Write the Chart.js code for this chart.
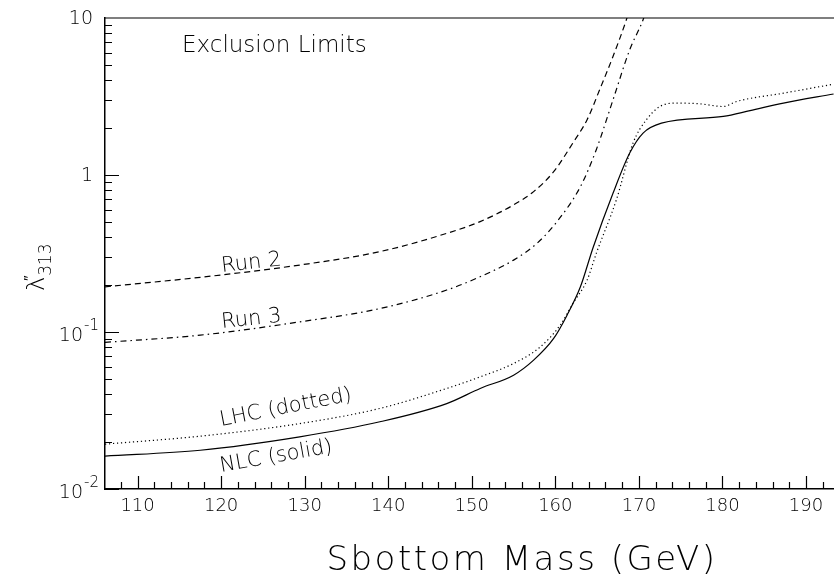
<!DOCTYPE html>
<html lang="en">
<head>
    <meta charset="UTF-8">
    <title>Exclusion Limits</title>
    <script src="https://cdn.jsdelivr.net/npm/chart.js"></script>
    <style>
        body { margin: 0; background: #fff; }
        #wrap { width: 834px; height: 581px; position: relative; }
    </style>
</head>
<body>
    <div id="wrap"><canvas id="chart"></canvas></div>

    <script>
        // values (sbottom mass in GeV, coupling on log scale)
        const run2Mass = [106.1, 117.5, 129.4, 139.0, 147.0, 151.0, 155.0, 157.4, 159.8, 162.1, 163.8, 165.3, 166.9, 168.5, 169.3];
        const run2Lambda = [0.194, 0.223, 0.267, 0.325, 0.425, 0.505, 0.645, 0.784, 1.05, 1.6, 2.25, 3.49, 5.69, 9.75, 13.5];

        const run3Mass = [106.1, 117.5, 129.4, 139.0, 147.0, 151.0, 155.0, 157.8, 160.2, 163.0, 164.9, 166.9, 168.9, 170.5, 171.1];
        const run3Lambda = [0.0859, 0.0955, 0.116, 0.141, 0.185, 0.225, 0.287, 0.367, 0.505, 0.843, 1.45, 3.01, 6.28, 9.75, 12.2];

        const lhcMass = [106.1, 117.5, 129.4, 139.0, 147.0, 151.0, 155.0, 158.2, 160.6, 162.1, 163.8, 164.9, 167.3, 169.3, 170.9, 172.5, 174.5, 177.3, 180.1, 181.7, 187.3, 193.3];
        const lhcLambda = [0.0193, 0.0217, 0.0261, 0.0326, 0.0437, 0.0518, 0.063, 0.0804, 0.111, 0.152, 0.214, 0.317, 0.694, 1.6, 2.25, 2.73, 2.87, 2.84, 2.73, 2.94, 3.32, 3.79];

        const nlcMass = [106.1, 117.5, 129.4, 139.0, 147.0, 151.0, 155.0, 157.4, 159.8, 161.4, 163.0, 164.5, 166.9, 168.9, 170.5, 172.7, 180.1, 183.3, 187.3, 193.3];
        const nlcLambda = [0.0162, 0.01765, 0.0215, 0.0268, 0.035, 0.0437, 0.0531, 0.0662, 0.091, 0.128, 0.194, 0.343, 0.765, 1.38, 1.85, 2.14, 2.36, 2.57, 2.87, 3.28];

        const xTickLabels = [110, 120, 130, 140, 150, 160, 170, 180, 190];
        const yTickLabels = [[0.01, '10', '-2'], [0.1, '10', '-1'], [1, '1', ''], [10, '10', '']];

        const FONT = '"DejaVu Sans", sans-serif';

        function pts(xs, ys) {
            return xs.map((x, i) => ({ x: x, y: ys[i] }));
        }

        function line(label, xs, ys, dash) {
            return {
                label: label,
                data: pts(xs, ys),
                borderColor: '#000',
                borderWidth: 1.2,
                borderDash: dash,
                pointRadius: 0,
                fill: false,
                cubicInterpolationMode: 'monotone'
            };
        }

        // ticks pointing into the plot, labels, titles and the curve captions
        const frame = {
            id: 'frame',
            afterDraw(chart) {
                const c = chart.ctx, a = chart.chartArea;
                const xs = chart.scales.x, ys = chart.scales.y;
                c.save();
                c.strokeStyle = '#000';
                c.fillStyle = '#000';
                c.lineWidth = 1.2;

                // top border
                c.beginPath();
                c.moveTo(a.left, a.top);
                c.lineTo(a.right, a.top);
                c.stroke();

                // x ticks every 2 GeV
                c.beginPath();
                for (let v = 108; v <= 192; v += 2) {
                    const px = Math.round(xs.getPixelForValue(v)) + 0.5;
                    const len = v % 10 === 0 ? 13 : 7;
                    c.moveTo(px, a.bottom);
                    c.lineTo(px, a.bottom - len);
                }
                // y ticks 1..9 per decade
                for (const d of [0.01, 0.1, 1]) {
                    for (let k = 1; k <= 9; k++) {
                        const py = Math.round(ys.getPixelForValue(d * k)) + 0.5;
                        const len = k === 1 ? 14 : 7;
                        c.moveTo(a.left, py);
                        c.lineTo(a.left + len, py);
                    }
                }
                c.stroke();

                // x tick labels
                c.font = '300 18px ' + FONT;
                c.textAlign = 'center';
                c.textBaseline = 'top';
                xTickLabels.forEach(v => c.fillText(String(v), xs.getPixelForValue(v), a.bottom + 8));

                // y tick labels with exponent
                yTickLabels.forEach(([v, base, exp]) => {
                    const py = ys.getPixelForValue(v);
                    c.textBaseline = 'middle';
                    if (exp) {
                        c.font = '300 15px ' + FONT;
                        c.textAlign = 'right';
                        c.fillText(exp, 99, py - 6);
                        const w = c.measureText(exp).width;
                        c.font = '300 19px ' + FONT;
                        c.fillText(base, 99 - w - 1, py + 4);
                    } else {
                        c.font = '300 19px ' + FONT;
                        c.textAlign = 'right';
                        c.fillText(base, 93, py + 1);
                    }
                });

                // axis titles
                c.font = '300 34px ' + FONT;
                c.letterSpacing = '2.5px';
                c.textAlign = 'center';
                c.textBaseline = 'alphabetic';
                c.fillText('Sbottom Mass (GeV)', 522, 570);
                c.letterSpacing = '0px';

                c.save();
                c.translate(44, 291);
                c.rotate(-Math.PI / 2);
                c.textAlign = 'left';
                c.font = '300 24px ' + FONT;
                c.fillText('\u03bb', 0, 0);
                const lw = c.measureText('\u03bb').width;
                c.font = '300 15px ' + FONT;
                c.fillText('\u2033', lw - 4, -10);
                c.font = '300 17px ' + FONT;
                c.fillText('313', lw + 1, 7);
                c.restore();

                // captions
                c.font = '300 23px ' + FONT;
                c.textAlign = 'left';
                c.fillText('Exclusion Limits', 182, 52);

                const caption = (t, x, y, deg) => {
                    c.save();
                    c.translate(x, y);
                    c.rotate(deg * Math.PI / 180);
                    c.font = '300 21px ' + FONT;
                    c.textAlign = 'left';
                    c.fillText(t, 0, 0);
                    c.restore();
                };
                caption('Run 2', 222, 272, -6.5);
                caption('Run 3', 222, 328, -6);
                caption('LHC (dotted)', 221, 426, -11);
                caption('NLC (solid)', 221, 472, -10);

                c.restore();
            }
        };

        new Chart(document.getElementById('chart'), {
            type: 'line',
            data: {
                datasets: [
                    line('Run 2', run2Mass, run2Lambda, [6, 4]),
                    line('Run 3', run3Mass, run3Lambda, [6, 4, 1.5, 4]),
                    line('LHC', lhcMass, lhcLambda, [1.2, 2.8]),
                    line('NLC', nlcMass, nlcLambda, [])
                ]
            },
            options: {
                responsive: true,
                maintainAspectRatio: false,
                animation: false,
                layout: { padding: { top: 18, right: 0, left: 0, bottom: 0 } },
                plugins: { legend: { display: false }, tooltip: { enabled: false } },
                scales: {
                    x: {
                        type: 'linear',
                        min: 106.1,
                        max: 193.35,
                        grid: { display: false, drawTicks: false },
                        ticks: { display: false },
                        border: { display: true, color: '#000', width: 1.5 },
                        afterFit: s => { s.height = 92; }
                    },
                    y: {
                        type: 'logarithmic',
                        min: 0.01,
                        max: 10,
                        grid: { display: false, drawTicks: false },
                        ticks: { display: false },
                        border: { display: true, color: '#000', width: 1.5 },
                        afterFit: s => { s.width = 105; }
                    }
                }
            },
            plugins: [frame]
        });
    </script>
</body>
</html>
